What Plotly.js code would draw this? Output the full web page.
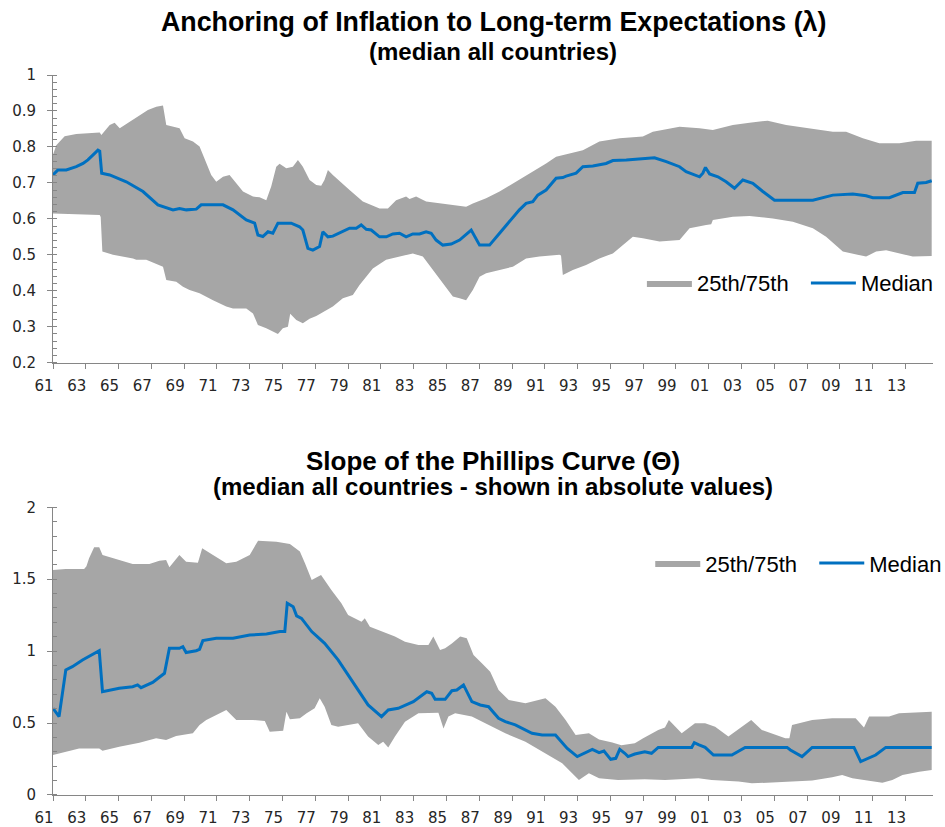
<!DOCTYPE html>
<html>
<head>
<meta charset="utf-8">
<script src="https://cdn.plot.ly/plotly-3.0.1.min.js"></script>
<style>
html,body{margin:0;padding:0;background:#fff;}
#chart{width:945px;height:827px;}
</style>
</head>
<body>
<div id="chart"></div>
<script>
// ---------- tick labels ----------
const tickYears = [1961,1963,1965,1967,1969,1971,1973,1975,1977,1979,1981,1983,1985,1987,1989,1991,1993,1995,1997,1999,2001,2003,2005,2007,2009,2011,2013];
const tickLabels = ["61","63","65","67","69","71","73","75","77","79","81","83","85","87","89","91","93","95","97","99","01","03","05","07","09","11","13"];

// ---------- Top chart: Anchoring (lambda) ----------
const topUpperX = [1961.00,1961.20,1961.71,1962.42,1963.85,1963.95,1964.46,1964.76,1965.07,1965.67,1966.28,1966.79,1967.30,1967.71,1967.91,1968.32,1968.72,1969.03,1969.54,1969.94,1970.25,1970.65,1970.96,1971.37,1971.77,1972.18,1972.59,1973.20,1973.60,1974.01,1974.31,1974.62,1974.82,1975.23,1975.63,1975.94,1976.24,1976.65,1977.06,1977.36,1977.56,1977.77,1978.07,1979.09,1979.90,1980.92,1981.43,1981.93,1982.54,1982.75,1983.15,1983.76,1984.58,1985.39,1986.20,1986.61,1987.42,1988.24,1989.25,1990.27,1991.08,1991.69,1992.30,1993.32,1994.33,1995.56,1996.98,1997.59,1999.22,2000.44,2001.25,2002.47,2003.49,2004.60,2005.72,2006.94,2008.57,2009.38,2010.40,2011.41,2012.63,2013.65,2014.60];
const topUpperY = [0.778,0.805,0.830,0.836,0.840,0.833,0.861,0.867,0.852,0.870,0.889,0.903,0.912,0.915,0.861,0.856,0.852,0.824,0.815,0.801,0.764,0.722,0.703,0.717,0.722,0.699,0.676,0.662,0.660,0.652,0.690,0.745,0.753,0.741,0.745,0.764,0.745,0.708,0.694,0.692,0.708,0.736,0.722,0.680,0.648,0.629,0.629,0.652,0.662,0.655,0.662,0.648,0.643,0.637,0.634,0.643,0.657,0.676,0.703,0.731,0.754,0.773,0.780,0.791,0.815,0.824,0.829,0.842,0.856,0.852,0.847,0.861,0.867,0.873,0.861,0.852,0.842,0.842,0.824,0.810,0.810,0.817,0.817];

const topLowerX = [1961.00,1963.85,1963.91,1964.01,1964.66,1965.88,1966.08,1966.69,1967.71,1967.91,1968.52,1968.93,1969.33,1969.94,1970.76,1971.57,1971.98,1972.79,1973.20,1973.50,1974.01,1974.41,1974.72,1975.02,1975.33,1975.47,1975.84,1976.24,1976.65,1977.06,1978.07,1978.68,1979.29,1979.70,1980.51,1981.32,1982.14,1982.95,1983.56,1984.17,1984.78,1985.39,1985.80,1986.20,1986.61,1987.02,1987.42,1988.24,1989.05,1989.86,1990.67,1991.89,1991.99,1992.10,1992.71,1993.52,1994.33,1995.15,1996.37,1996.98,1998.00,1999.22,1999.83,2000.84,2001.15,2001.25,2002.47,2003.49,2004.91,2006.13,2007.35,2008.16,2009.18,2010.60,2011.21,2011.82,2012.63,2013.45,2014.60];
const topLowerY = [0.615,0.611,0.605,0.509,0.500,0.490,0.486,0.486,0.467,0.430,0.425,0.411,0.402,0.393,0.374,0.356,0.351,0.351,0.337,0.305,0.296,0.286,0.280,0.296,0.300,0.336,0.319,0.310,0.322,0.330,0.356,0.379,0.388,0.416,0.462,0.486,0.495,0.504,0.495,0.458,0.421,0.384,0.379,0.374,0.402,0.439,0.449,0.458,0.467,0.490,0.495,0.500,0.498,0.444,0.458,0.472,0.490,0.504,0.550,0.546,0.537,0.541,0.574,0.583,0.585,0.597,0.606,0.608,0.601,0.592,0.574,0.550,0.509,0.495,0.509,0.513,0.504,0.495,0.497];

const topMedX = [1961.00,1961.30,1961.81,1962.42,1962.83,1963.13,1963.54,1963.74,1963.85,1963.97,1964.46,1965.47,1966.49,1967.40,1968.32,1968.72,1969.13,1969.74,1970.04,1971.37,1971.98,1972.79,1973.30,1973.50,1973.80,1974.11,1974.41,1974.72,1975.53,1976.04,1976.24,1976.55,1976.85,1977.26,1977.46,1977.77,1978.07,1979.09,1979.50,1979.80,1980.11,1980.41,1980.92,1981.33,1981.73,1982.14,1982.54,1982.95,1983.36,1983.76,1984.07,1984.37,1984.78,1985.29,1985.80,1986.51,1987.02,1987.63,1988.24,1988.85,1989.45,1989.86,1990.27,1990.57,1991.08,1991.69,1992.10,1992.30,1992.91,1993.32,1993.93,1994.74,1995.15,1995.97,1996.98,1997.69,1998.41,1999.22,1999.62,2000.44,2000.64,2000.80,2001.05,2001.56,2002.06,2002.57,2003.08,2003.69,2004.30,2005.01,2007.35,2008.57,2009.79,2010.60,2011.01,2012.02,2012.84,2013.55,2013.75,2014.26,2014.60];
const topMedY = [0.722,0.736,0.736,0.745,0.754,0.764,0.782,0.791,0.788,0.727,0.722,0.703,0.676,0.639,0.625,0.629,0.625,0.627,0.639,0.639,0.625,0.597,0.588,0.555,0.551,0.564,0.560,0.588,0.588,0.578,0.569,0.518,0.513,0.523,0.564,0.550,0.552,0.574,0.574,0.583,0.571,0.569,0.550,0.550,0.558,0.560,0.550,0.558,0.558,0.564,0.560,0.541,0.527,0.530,0.541,0.569,0.527,0.527,0.560,0.592,0.625,0.643,0.648,0.666,0.680,0.713,0.715,0.719,0.727,0.745,0.747,0.754,0.762,0.764,0.768,0.770,0.759,0.745,0.731,0.717,0.727,0.743,0.725,0.717,0.703,0.685,0.708,0.699,0.676,0.652,0.652,0.666,0.669,0.664,0.659,0.659,0.673,0.673,0.699,0.701,0.706];

// ---------- Bottom chart: Phillips curve slope (theta) ----------
const botUpperX = [1961.00,1961.78,1962.90,1963.04,1963.20,1963.51,1963.82,1964.02,1965.04,1965.86,1966.88,1967.49,1967.90,1968.10,1968.71,1969.12,1969.84,1970.10,1970.76,1971.57,1972.18,1973.00,1973.51,1974.63,1975.45,1976.06,1976.37,1976.78,1977.35,1977.98,1978.59,1979.00,1979.82,1980.02,1980.33,1981.04,1981.86,1982.47,1983.29,1983.90,1984.20,1984.61,1984.92,1985.33,1985.84,1986.24,1986.65,1987.16,1987.67,1988.18,1988.80,1989.82,1990.63,1991.04,1991.65,1992.27,1992.88,1993.69,1994.31,1995.12,1995.67,1996.49,1997.00,1997.92,1998.33,1998.57,1999.35,2000.16,2000.78,2001.39,2002.20,2003.02,2003.59,2004.24,2005.67,2005.92,2006.08,2007.31,2008.53,2009.96,2010.47,2010.78,2012.00,2012.61,2014.60];
const botUpperY = [1.564,1.571,1.571,1.590,1.645,1.722,1.722,1.669,1.634,1.606,1.606,1.629,1.634,1.583,1.669,1.622,1.615,1.715,1.669,1.611,1.622,1.669,1.768,1.761,1.745,1.692,1.611,1.495,1.530,1.425,1.333,1.251,1.205,1.228,1.170,1.136,1.101,1.066,1.043,1.043,1.101,1.008,1.020,1.054,1.101,1.089,0.973,0.915,0.857,0.730,0.660,0.637,0.660,0.672,0.614,0.521,0.417,0.429,0.385,0.365,0.345,0.359,0.394,0.452,0.470,0.521,0.429,0.498,0.498,0.475,0.406,0.475,0.521,0.452,0.394,0.394,0.487,0.521,0.533,0.533,0.470,0.545,0.545,0.568,0.579];

const botLowerX = [1961.00,1961.78,1962.59,1963.82,1964.02,1965.04,1966.27,1967.29,1967.90,1968.51,1969.53,1969.94,1970.35,1971.57,1972.18,1973.20,1973.92,1974.22,1975.04,1975.24,1975.45,1976.06,1976.47,1976.96,1977.27,1977.57,1977.98,1978.39,1979.61,1980.22,1980.84,1981.14,1981.45,1981.86,1982.47,1983.29,1984.51,1984.82,1985.12,1985.53,1986.55,1987.37,1988.59,1989.82,1991.04,1992.06,1992.47,1993.08,1993.69,1994.31,1995.47,1997.10,1998.33,2000.37,2001.18,2002.82,2003.63,2005.67,2007.31,2008.53,2009.14,2009.76,2010.57,2011.59,2012.20,2012.82,2013.84,2014.60];
const botLowerY = [0.278,0.301,0.324,0.324,0.308,0.336,0.364,0.394,0.382,0.410,0.429,0.487,0.521,0.591,0.521,0.521,0.515,0.440,0.447,0.579,0.526,0.533,0.568,0.603,0.672,0.614,0.487,0.475,0.498,0.406,0.348,0.371,0.331,0.406,0.510,0.568,0.572,0.463,0.545,0.568,0.545,0.498,0.429,0.371,0.290,0.220,0.174,0.104,0.151,0.116,0.104,0.109,0.104,0.116,0.104,0.093,0.081,0.093,0.100,0.123,0.139,0.116,0.104,0.086,0.104,0.139,0.162,0.174];

const botMedX = [1961.00,1961.16,1961.37,1961.78,1962.18,1962.80,1963.31,1963.82,1964.02,1965.04,1965.86,1966.16,1966.37,1967.08,1967.80,1968.10,1968.71,1968.92,1969.12,1969.73,1969.94,1970.14,1970.96,1971.98,1973.00,1974.02,1974.84,1975.14,1975.29,1975.65,1975.86,1976.16,1976.78,1977.57,1978.39,1979.20,1980.22,1981.04,1981.45,1982.06,1982.98,1983.80,1984.10,1984.31,1984.92,1985.33,1985.63,1986.04,1986.55,1987.06,1987.57,1988.18,1988.59,1989.20,1990.22,1990.84,1991.65,1992.37,1992.98,1993.90,1994.31,1994.61,1995.02,1995.33,1995.57,1995.88,1996.08,1996.49,1997.10,1997.51,1997.92,1999.96,2000.12,2000.37,2000.78,2001.29,2002.41,2003.22,2005.78,2005.98,2006.69,2007.31,2009.86,2010.27,2011.18,2011.80,2014.60];
const botMedY = [0.603,0.580,0.545,0.869,0.892,0.939,0.973,1.003,0.718,0.742,0.753,0.765,0.746,0.783,0.846,1.020,1.020,1.031,0.990,1.003,1.013,1.073,1.089,1.089,1.112,1.119,1.136,1.136,1.333,1.309,1.245,1.228,1.136,1.054,0.939,0.800,0.626,0.545,0.591,0.603,0.649,0.718,0.707,0.665,0.665,0.725,0.730,0.765,0.649,0.626,0.614,0.533,0.510,0.487,0.429,0.417,0.417,0.324,0.267,0.317,0.294,0.306,0.248,0.255,0.317,0.290,0.267,0.285,0.301,0.290,0.331,0.331,0.364,0.350,0.331,0.278,0.278,0.331,0.331,0.313,0.267,0.331,0.331,0.232,0.278,0.331,0.331];

// ---------- styling ----------
const bandColor = '#A6A6A6';
const medColor = '#0070C0';
const axisColor = '#868686';
const tickFont = {family: 'DejaVu Sans, Verdana, sans-serif', size: 15, color: '#262626'};
const titleFamily = 'Liberation Sans, Arial, sans-serif';

const traces = [
  {x: topLowerX, y: topLowerY, xaxis: 'x', yaxis: 'y', mode: 'lines', line: {width: 0, color: bandColor}, showlegend: false, hoverinfo: 'skip'},
  {x: topUpperX, y: topUpperY, xaxis: 'x', yaxis: 'y', mode: 'lines', fill: 'tonexty', fillcolor: bandColor, line: {width: 0, color: bandColor}, name: '25th/75th', legend: 'legend'},
  {x: topMedX, y: topMedY, xaxis: 'x', yaxis: 'y', mode: 'lines', line: {width: 3, color: medColor}, name: 'Median', legend: 'legend'},
  {x: botLowerX, y: botLowerY, xaxis: 'x2', yaxis: 'y2', mode: 'lines', line: {width: 0, color: bandColor}, showlegend: false, hoverinfo: 'skip'},
  {x: botUpperX, y: botUpperY, xaxis: 'x2', yaxis: 'y2', mode: 'lines', fill: 'tonexty', fillcolor: bandColor, line: {width: 0, color: bandColor}, name: '25th/75th', legend: 'legend2'},
  {x: botMedX, y: botMedY, xaxis: 'x2', yaxis: 'y2', mode: 'lines', line: {width: 3, color: medColor}, name: 'Median', legend: 'legend2'}
];

function xAxis(anchor) {
  return {
    anchor: anchor, domain: [0, 1], range: [1961, 2014.68],
    tickmode: 'array', tickvals: tickYears, ticktext: tickLabels,
    ticks: 'outside', ticklen: 5, tickcolor: axisColor, tickwidth: 1,
    showline: true, linecolor: axisColor, linewidth: 1,
    showgrid: false, zeroline: false, tickfont: tickFont,
    ticklabelshift: -9, ticklabelstandoff: 4, fixedrange: true
  };
}
function yAxis(anchor, domain, range, dtick, minorDtick) {
  return {
    anchor: anchor, domain: domain, range: range, dtick: dtick, tick0: 0,
    ticks: 'outside', ticklen: 5, tickcolor: axisColor, tickwidth: 1,
    minor: {ticks: 'inside', dtick: minorDtick, ticklen: 4, tickcolor: axisColor, showgrid: false},
    showline: true, linecolor: axisColor, linewidth: 1,
    showgrid: false, zeroline: false, tickfont: tickFont,
    ticklabelstandoff: 8, fixedrange: true
  };
}

const legendCommon = {
  orientation: 'h', xanchor: 'left', yanchor: 'middle',
  font: {family: titleFamily, size: 22, color: '#000'},
  bgcolor: 'rgba(0,0,0,0)', borderwidth: 0, itemwidth: 45,
  entrywidthmode: 'pixels', entrywidth: 104,
  traceorder: 'normal'
};

const layout = {
  width: 945, height: 827,
  margin: {l: 53, r: 12, t: 75, b: 32, autoexpand: false},
  paper_bgcolor: '#fff', plot_bgcolor: '#fff',
  showlegend: true,
  xaxis: xAxis('y'),
  yaxis: yAxis('x', [0.6004, 1], [0.2, 1], 0.1, 0.02),
  xaxis2: xAxis('y2'),
  yaxis2: yAxis('x2', [0, 0.3996], [0, 2], 0.5, 0.1),
  legend: Object.assign({}, legendCommon, {x: 0.6692, y: 0.711}),
  legend2: Object.assign({}, legendCommon, {x: 0.6787, y: 0.322}),
  annotations: [
    {text: '<b>Anchoring of Inflation to Long-term Expectations (λ)</b>', xref: 'paper', yref: 'paper', x: 0.5, y: 1.0735, xanchor: 'center', yanchor: 'middle', showarrow: false, font: {family: titleFamily, size: 26.8, color: '#000'}},
    {text: '<b>(median all countries)</b>', xref: 'paper', yref: 'paper', x: 0.5, y: 1.0333, xanchor: 'center', yanchor: 'middle', showarrow: false, font: {family: titleFamily, size: 24, color: '#000'}},
    {text: '<b>Slope of the Phillips Curve (Θ)</b>', xref: 'paper', yref: 'paper', x: 0.5, y: 0.464, xanchor: 'center', yanchor: 'middle', showarrow: false, font: {family: titleFamily, size: 26, color: '#000'}},
    {text: '<b>(median all countries - shown in absolute values)</b>', xref: 'paper', yref: 'paper', x: 0.5, y: 0.428, xanchor: 'center', yanchor: 'middle', showarrow: false, font: {family: titleFamily, size: 24, color: '#000'}}
  ]
};

Plotly.newPlot('chart', traces, layout, {staticPlot: true, displayModeBar: false});
</script>
</body>
</html>
